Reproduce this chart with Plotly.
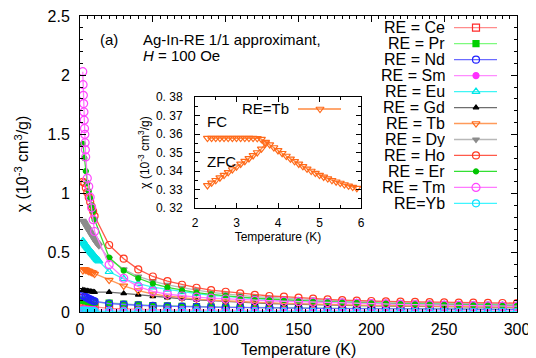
import plotly.graph_objects as go

FONT = "Liberation Sans, Arial, Helvetica, sans-serif"

# ---------------- main panel data (chi in 1e-3 cm^3/g, T in K) ----------------
T_LOW = [2, 3, 4, 5, 6, 7, 8, 9, 10]
T_HIGH = [20, 30, 40, 50, 60, 70, 80, 90, 100, 110, 120, 130, 140, 150, 160,
          170, 180, 190, 200, 210, 220, 230, 240, 250, 260, 270, 280, 290, 300]
T_DENSE = [2, 2.5, 3, 3.5, 4, 4.5, 5, 5.5, 6, 6.5, 7, 7.5, 8, 8.5, 9, 9.5,
           10, 10.5, 11, 11.5, 12, 12.5, 13]
T_TM_LOW = [1.9, 2.1, 2.3, 2.5, 2.7, 2.9, 3.1, 3.3, 3.5, 3.7, 3.9, 5, 6, 7, 8, 9, 10]

ce_low = [0.12, 0.08, 0.06, 0.05, 0.048, 0.046, 0.045, 0.044, 0.043]
ce_high = [0.03, 0.025, 0.02, 0.018, 0.016, 0.015, 0.014, 0.013, 0.012, 0.011, 0.011,
           0.010, 0.010, 0.009, 0.009, 0.008, 0.008, 0.008, 0.007, 0.007, 0.007,
           0.006, 0.006, 0.006, 0.006, 0.005, 0.005, 0.005, 0.005]

pr_low = [0.10, 0.098, 0.096, 0.094, 0.092, 0.09, 0.088, 0.086, 0.084]
pr_high = [0.076, 0.066, 0.06, 0.055, 0.051, 0.048, 0.045, 0.043, 0.041, 0.039, 0.037,
           0.036, 0.035, 0.034, 0.033, 0.032, 0.031, 0.030, 0.029, 0.029, 0.028,
           0.027, 0.027, 0.026, 0.026, 0.025, 0.025, 0.024, 0.024]

nd_low = [0.14, 0.13, 0.125, 0.118, 0.112, 0.106, 0.10, 0.095, 0.09]
nd_high = [0.072, 0.063, 0.057, 0.052, 0.048, 0.045, 0.043, 0.041, 0.039, 0.037, 0.035,
           0.034, 0.033, 0.032, 0.031, 0.030, 0.029, 0.028, 0.027, 0.027, 0.026,
           0.025, 0.025, 0.024, 0.024, 0.023, 0.023, 0.022, 0.022]

sm_low = [0.025, 0.024, 0.023, 0.022, 0.021, 0.02, 0.02, 0.019, 0.019]
sm_high = [0.017, 0.016, 0.016, 0.015, 0.015, 0.015, 0.014, 0.014, 0.014, 0.014, 0.013,
           0.013, 0.013, 0.013, 0.013, 0.012, 0.012, 0.012, 0.012, 0.012, 0.012,
           0.012, 0.011, 0.011, 0.011, 0.011, 0.011, 0.011, 0.011]

eu_low = [0.60, 0.59, 0.58, 0.57, 0.56, 0.553, 0.545, 0.537, 0.53, 0.522, 0.515, 0.507,
          0.50, 0.492, 0.485, 0.477, 0.47, 0.462, 0.455, 0.447, 0.44, 0.435, 0.43]
eu_high = [0.34, 0.28, 0.24, 0.21, 0.19, 0.17, 0.155, 0.14, 0.13, 0.12, 0.112, 0.105,
           0.099, 0.094, 0.089, 0.085, 0.081, 0.078, 0.075, 0.072, 0.069, 0.067,
           0.065, 0.063, 0.061, 0.059, 0.058, 0.056, 0.055]

gd_low = [0.185, 0.182, 0.18, 0.178, 0.176, 0.174, 0.172, 0.17, 0.168]
gd_high = [0.168, 0.157, 0.145, 0.132, 0.122, 0.112, 0.103, 0.095, 0.088, 0.082, 0.077,
           0.072, 0.068, 0.064, 0.061, 0.058, 0.056, 0.054, 0.052, 0.05, 0.048,
           0.046, 0.045, 0.043, 0.042, 0.041, 0.04, 0.039, 0.038]

tb_low = [0.35, 0.36, 0.355, 0.35, 0.345, 0.34, 0.335, 0.33, 0.32]
tb_high = [0.27, 0.22, 0.18, 0.152, 0.135, 0.12, 0.109, 0.1, 0.093, 0.087, 0.082, 0.077,
           0.073, 0.069, 0.066, 0.063, 0.06, 0.058, 0.056, 0.054, 0.052, 0.05, 0.048,
           0.047, 0.046, 0.044, 0.043, 0.042, 0.041]

dy_low = [0.77, 0.76, 0.75, 0.74, 0.73, 0.72, 0.71, 0.70, 0.69, 0.68, 0.67, 0.66,
          0.65, 0.64, 0.63, 0.62, 0.61, 0.60, 0.59, 0.583, 0.575, 0.567, 0.56]
dy_high = [0.45, 0.36, 0.30, 0.26, 0.23, 0.205, 0.185, 0.165, 0.15, 0.14, 0.13, 0.122,
           0.115, 0.109, 0.104, 0.099, 0.095, 0.091, 0.088, 0.085, 0.082, 0.079,
           0.077, 0.075, 0.073, 0.071, 0.069, 0.067, 0.066]

ho_low = [1.10, 1.09, 1.05, 1.01, 0.97, 0.93, 0.89, 0.85, 0.81]
ho_high = [0.566, 0.45, 0.36, 0.30, 0.26, 0.23, 0.205, 0.185, 0.171, 0.157, 0.144,
           0.135, 0.13, 0.121, 0.113, 0.107, 0.101, 0.096, 0.093, 0.09, 0.088, 0.086,
           0.084, 0.082, 0.08, 0.079, 0.077, 0.076, 0.075]

er_low = [1.42, 1.30, 1.19, 1.09, 1.02, 0.96, 0.90, 0.85, 0.78]
er_high = [0.46, 0.35, 0.285, 0.24, 0.208, 0.183, 0.164, 0.149, 0.136, 0.125, 0.117,
           0.109, 0.102, 0.097, 0.092, 0.087, 0.083, 0.079, 0.076, 0.073, 0.07, 0.068,
           0.065, 0.063, 0.061, 0.06, 0.058, 0.056, 0.055]

tm_low = [2.03, 1.92, 1.83, 1.76, 1.69, 1.62, 1.55, 1.50, 1.43, 1.37, 1.31,
          1.13, 1.06, 0.97, 0.88, 0.78, 0.68]
tm_high = [0.40, 0.285, 0.215, 0.175, 0.15, 0.135, 0.125, 0.117, 0.11, 0.104, 0.099,
           0.095, 0.091, 0.087, 0.083, 0.08, 0.077, 0.074, 0.071, 0.068, 0.065,
           0.062, 0.06, 0.058, 0.056, 0.054, 0.052, 0.05, 0.049]

yb_low = [0.012, 0.011, 0.01, 0.009, 0.008, 0.008, 0.007, 0.007, 0.006]
yb_high = [0.005, 0.004, 0.004, 0.003, 0.003, 0.003, 0.003, 0.002, 0.002, 0.002, 0.002,
           0.002, 0.002, 0.002, 0.002, 0.002, 0.002, 0.002, 0.002, 0.002, 0.002,
           0.002, 0.002, 0.002, 0.002, 0.002, 0.002, 0.002, 0.002]

# ---------------- inset data (RE = Tb) ----------------
fc_T = [2.3, 2.4, 2.5, 2.6, 2.7, 2.8, 2.9, 3.0, 3.1, 3.2, 3.3, 3.4, 3.5, 3.6,
        3.7, 3.8, 3.9, 4.0, 4.1, 4.2, 4.3, 4.4, 4.5, 4.6, 4.7, 4.8, 4.9, 5.0,
        5.1, 5.2, 5.3, 5.4, 5.5, 5.6, 5.7, 5.8, 5.9]
fc_chi = [0.3578, 0.3578, 0.3578, 0.3578, 0.3578, 0.3578, 0.3578, 0.3578, 0.3578,
          0.3578, 0.3578, 0.3578, 0.3577, 0.3572, 0.3556, 0.3543, 0.3527, 0.3511,
          0.3496, 0.3481, 0.3466, 0.3452, 0.3438, 0.3425, 0.3412, 0.3400, 0.3389,
          0.3378, 0.3368, 0.3359, 0.3350, 0.3342, 0.3335, 0.3327, 0.3320, 0.3313,
          0.3307]
zfc_T = [2.3, 2.4, 2.5, 2.6, 2.7, 2.8, 2.9, 3.0, 3.1, 3.2, 3.3, 3.4, 3.5, 3.6, 3.7]
zfc_chi = [0.3322, 0.3336, 0.3350, 0.3364, 0.3378, 0.3393, 0.3408, 0.3423, 0.3438,
           0.3453, 0.3468, 0.3484, 0.3500, 0.3520, 0.3548]

Y_TICKS_IN = [0.32, 0.33, 0.34, 0.35, 0.36, 0.37, 0.38]
Y_TICKTEXT_IN = ["0. 32", "0. 33", "0. 34", "0. 35", "0. 36", "0. 37", "0. 38"]

series = [
    # label, T_low, low, high, line colour, marker colour, symbol, size
    ("RE = Ce", T_LOW, ce_low, ce_high, "#ff8c8c", "#ff2a2a", "square-open", 7),
    ("RE = Pr", T_LOW, pr_low, pr_high, "#7dfa7d", "#00d000", "square", 6),
    ("RE = Nd", T_LOW, nd_low, nd_high, "#6b6bff", "#2020ff", "circle-open", 7),
    ("RE = Sm", T_LOW, sm_low, sm_high, "#ff8cff", "#ff30ff", "circle", 6),
    ("RE = Eu", T_DENSE, eu_low, eu_high, "#3ff5f5", "#00e6e6", "triangle-up-open", 7),
    ("RE = Gd", T_LOW, gd_low, gd_high, "#6e6e6e", "#000000", "triangle-up", 5),
    ("RE = Tb", T_LOW, tb_low, tb_high, "#ff9a5a", "#ff6a1a", "triangle-down-open", 7),
    ("RE = Dy", T_DENSE, dy_low, dy_high, "#b8b8b8", "#8c8c8c", "triangle-down", 6),
    ("RE = Ho", T_LOW, ho_low, ho_high, "#ff5a4a", "#ff3a22", "circle-open", 7),
    ("RE = Er", T_LOW, er_low, er_high, "#33e033", "#00c400", "circle", 5),
    ("RE = Tm", T_TM_LOW, tm_low, tm_high, "#ff7aff", "#ff45ff", "circle-open", 8),
    ("RE=Yb", T_LOW, yb_low, yb_high, "#3ff5ff", "#10e0ff", "circle-open", 7),
]

# Geometry: the page body has an 8 px margin, so the figure is drawn 8 px
# right/down of the window corner. Screen-pixel targets are converted below.
OFF = 8
SL, SR, STOP, SBOT = 80, 517, 16, 312          # plot area on screen
W, H = 536 - OFF, 358 - OFF                     # figure size
L, R, TOP, BOT = SL - OFF, SR - OFF, STOP - OFF, SBOT - OFF


def px(x):
    """screen x pixel -> plot-area fraction"""
    return (x - SL) / (SR - SL)


def py(y):
    """screen y pixel -> plot-area fraction"""
    return (SBOT - y) / (SBOT - STOP)


fig = go.Figure()

for name, tl, lo, hi, lc, mc, sym, sz in series:
    fig.add_trace(go.Scatter(
        x=tl + T_HIGH, y=lo + hi, mode="lines+markers", name=name,
        line=dict(color=lc, width=1.3),
        marker=dict(symbol=sym, size=sz, color=mc, line=dict(color=mc, width=1.2)),
        xaxis="x", yaxis="y", showlegend=False, cliponaxis=True,
    ))

# inset curves
tb_line, tb_mark = "#ff8a40", "#ff6a1a"
fig.add_trace(go.Scatter(
    x=fc_T, y=fc_chi, mode="lines+markers", line=dict(color=tb_line, width=1.3),
    marker=dict(symbol="triangle-down-open", size=7, color=tb_mark,
                line=dict(color=tb_mark, width=1.2)),
    xaxis="x2", yaxis="y2", showlegend=False))
fig.add_trace(go.Scatter(
    x=zfc_T, y=zfc_chi, mode="lines+markers", line=dict(color=tb_line, width=1.3),
    marker=dict(symbol="triangle-down-open", size=7, color=tb_mark,
                line=dict(color=tb_mark, width=1.2)),
    xaxis="x2", yaxis="y2", showlegend=False))

# ---------------- hand-made legend (text left, sample right) ----------------
leg_y0, leg_dy = 27.7, 15.97
annotations = []
for i, (name, tl, lo, hi, lc, mc, sym, sz) in enumerate(series):
    yy = leg_y0 + i * leg_dy
    annotations.append(dict(x=px(446), y=py(yy), xref="paper", yref="paper",
                            text=name, showarrow=False, xanchor="right",
                            yanchor="middle", height=15, borderpad=0,
                            font=dict(size=16, color="black")))
    fig.add_trace(go.Scatter(
        x=[454, 497], y=[yy, yy], mode="lines", line=dict(color=lc, width=1.3),
        xaxis="x3", yaxis="y3", showlegend=False, hoverinfo="skip"))
    fig.add_trace(go.Scatter(
        x=[476], y=[yy], mode="markers",
        marker=dict(symbol=sym, size=sz, color=mc, line=dict(color=mc, width=1.2)),
        xaxis="x3", yaxis="y3", showlegend=False, hoverinfo="skip"))

# inset legend sample
fig.add_trace(go.Scatter(
    x=[298, 341], y=[109, 109], mode="lines", line=dict(color=tb_line, width=1.3),
    xaxis="x3", yaxis="y3", showlegend=False, hoverinfo="skip"))
fig.add_trace(go.Scatter(
    x=[320], y=[109], mode="markers",
    marker=dict(symbol="triangle-down-open", size=7, color=tb_mark,
                line=dict(color=tb_mark, width=1.2)),
    xaxis="x3", yaxis="y3", showlegend=False, hoverinfo="skip"))

annotations += [
    dict(x=px(291), y=py(109), text="RE=Tb", xanchor="right", font=dict(size=15)),
    dict(x=px(98), y=py(39), text="(a)", xanchor="left", font=dict(size=15)),
    dict(x=px(141), y=py(39), text="Ag-In-RE 1/1 approximant,", xanchor="left",
         font=dict(size=15)),
    dict(x=px(141), y=py(56), text="<i>H</i> = 100 Oe", xanchor="left",
         font=dict(size=15)),
    dict(x=px(205), y=py(121), text="FC", xanchor="left", font=dict(size=15)),
    dict(x=px(205), y=py(161), text="ZFC", xanchor="left", font=dict(size=15)),
]
for a in annotations:
    a.setdefault("xref", "paper")
    a.setdefault("yref", "paper")
    a.setdefault("showarrow", False)
    a.setdefault("yanchor", "middle")
    a["font"].setdefault("color", "black")
    a["font"].setdefault("family", FONT)

axis_common = dict(showline=True, linecolor="black", linewidth=1, mirror="allticks",
                   ticks="inside", tickcolor="black", showgrid=False, zeroline=False,
                   automargin=False, ticklabeloverflow="allow")

inset_x = [px(195), px(361)]
inset_y = [py(208), py(97)]

fig.update_layout(
    width=W, height=H,
    margin=dict(l=L, r=W - R, t=TOP, b=H - BOT, autoexpand=False),
    paper_bgcolor="white", plot_bgcolor="rgba(0,0,0,0)",
    font=dict(family=FONT, size=16, color="black"),
    showlegend=False,
    xaxis=dict(range=[0, 300], domain=[0, 1], tickvals=[0, 50, 100, 150, 200, 250, 300],
               ticklen=6, tickfont=dict(size=16), ticklabelstandoff=3,
               minor=dict(dtick=5, ticklen=3, ticks="inside", tickcolor="black"),
               title=dict(text="Temperature (K)", font=dict(size=16), standoff=6),
               **axis_common),
    yaxis=dict(range=[0, 2.5], domain=[0, 1], tickvals=[0, 0.5, 1, 1.5, 2, 2.5],
               ticktext=["0", "0.5", "1", "1.5", "2", "2.5"],
               ticklen=6, tickfont=dict(size=16), ticklabelstandoff=6,
               minor=dict(dtick=0.1, ticklen=3, ticks="inside", tickcolor="black"),
               title=dict(text="χ (10<sup>-3</sup> cm<sup>3</sup>/g)",
                          font=dict(size=16), standoff=14),
               **axis_common),
    xaxis2=dict(range=[2, 6], domain=inset_x, anchor="y2",
                tickvals=[2, 3, 4, 5, 6], ticklen=5, tickfont=dict(size=12),
                ticklabelstandoff=4,
                minor=dict(dtick=0.5, ticklen=3, ticks="inside", tickcolor="black"),
                title=dict(text="Temperature (K)", font=dict(size=12), standoff=2),
                **axis_common),
    yaxis2=dict(range=[0.32, 0.38], domain=inset_y, anchor="x2",
                tickvals=Y_TICKS_IN, ticktext=Y_TICKTEXT_IN, ticklen=5,
                tickfont=dict(size=12), ticklabelstandoff=9,
                minor=dict(dtick=0.005, ticklen=3, ticks="inside", tickcolor="black"),
                title=dict(text="χ (10<sup>-3</sup> cm<sup>3</sup>/g)",
                           font=dict(size=12), standoff=3),
                **axis_common),
    xaxis3=dict(range=[SL, SR], domain=[0, 1], anchor="y3", overlaying="x",
                visible=False, fixedrange=True),
    yaxis3=dict(range=[SBOT, STOP], domain=[0, 1], anchor="x3", overlaying="y",
                visible=False, fixedrange=True),
    annotations=annotations,
)

fig.write_html("out.html")
